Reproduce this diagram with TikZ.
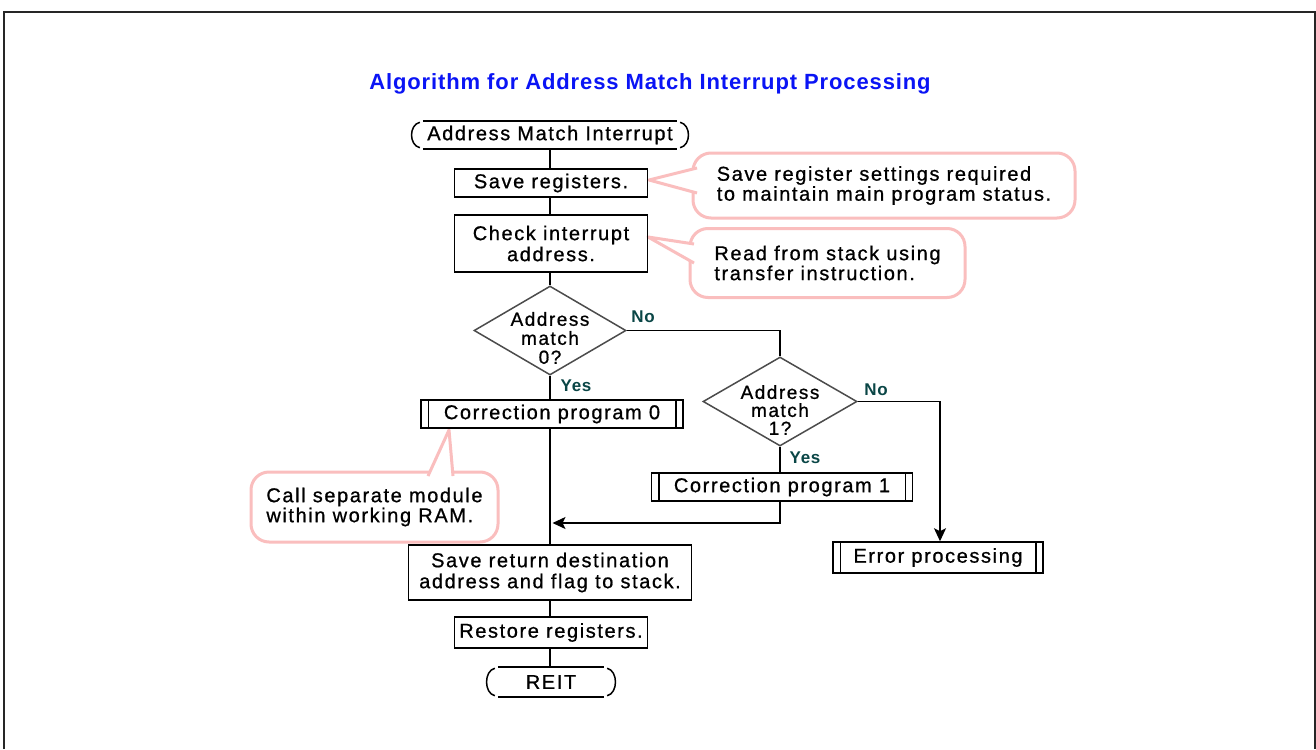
\documentclass[tikz,border=0pt]{standalone}
\usepackage{fontspec}
\setmainfont{Liberation Sans}[LetterSpace=8,FakeBold=0.8]
\newfontfamily\titlefont{Liberation Sans}[LetterSpace=4]
\newfontfamily\lblfont{Liberation Sans}[LetterSpace=4]
\usetikzlibrary{shapes.geometric,arrows.meta,calc}
\definecolor{titleblue}{RGB}{10,20,245}
\definecolor{labelteal}{RGB}{10,70,70}
\definecolor{calloutpink}{RGB}{250,190,190}
\newcommand\termoutline[1]{%
  \draw[flow] ([xshift=13pt]#1.north west) -- ([xshift=-13pt]#1.north east);
  \draw[flow] ([xshift=13pt]#1.south west) -- ([xshift=-13pt]#1.south east);
  \draw[flow] ([xshift=10pt,yshift=-1.5pt]#1.north west) .. controls ([xshift=-1pt,yshift=-4pt]#1.north west) and ([xshift=-1pt,yshift=4pt]#1.south west) .. ([xshift=10pt,yshift=1.5pt]#1.south west);
  \draw[flow] ([xshift=-10pt,yshift=-1.5pt]#1.north east) .. controls ([xshift=1pt,yshift=-4pt]#1.north east) and ([xshift=1pt,yshift=4pt]#1.south east) .. ([xshift=-10pt,yshift=1.5pt]#1.south east);
}
\newcommand\predeflines[1]{%
  \draw[flow] ([xshift=8pt]#1.north west) -- ([xshift=8pt]#1.south west);
  \draw[flow] ([xshift=-8pt]#1.north east) -- ([xshift=-8pt]#1.south east);
}
\begin{document}
\begin{tikzpicture}[x=1pt,y=-1pt,
  base/.style={font=\fontsize{20}{21}\selectfont, inner sep=0pt, align=center},
  proc/.style={base, draw, line width=1.5pt, rectangle},
  dia/.style={draw=black!70, line width=1.5pt, shape=diamond, inner sep=0pt},
  flow/.style={line width=1.5pt},
  arr/.style={flow, -{Stealth[length=13pt,width=12pt,inset=3pt]}},
  lbl/.style={font=\lblfont\bfseries\fontsize{17}{18}\selectfont, text=labelteal, inner sep=0pt},
  callout/.style={draw=calloutpink, line width=3pt, rounded corners=18pt, fill=white, inner sep=0pt, font=\fontsize{20}{20}\selectfont, align=left},
  pinkline/.style={draw=calloutpink, line width=3pt, line join=round},
]
\useasboundingbox (0,0) rectangle (1316,749);
\fill[white] (0,0) rectangle (1316,749);
\draw[line width=2pt, black!85] (4,749) -- (4,12.5) -- (1314.5,12.5) -- (1314.5,749);

% title
\node[inner sep=0pt, text=titleblue, font=\titlefont\bfseries\fontsize{22}{23}\selectfont] (title) at (650,84) {Algorithm for Address Match Interrupt Processing};

% callouts (behind)
\node[callout, minimum width=382pt, minimum height=65pt] (c1) at (884,185.5) {Save register settings required\\to maintain main program status.};
\node[callout, minimum width=275pt, minimum height=69pt] (c2) at (827.5,263) {Read from stack using\\transfer instruction.};
\node[callout, minimum width=247pt, minimum height=70pt] (c3) at (374.5,507) {Call separate module\\within working RAM.};

\coordinate (c1tip) at (649,180);
\coordinate (c1a) at (697,168);
\coordinate (c1b) at (697,193);
\fill[white] (c1a) -- (c1tip) -- (c1b) -- cycle;
\draw[pinkline] (c1a) -- (c1tip) -- (c1b);

\coordinate (c2tip) at (648,237);
\coordinate (c2a) at (694,244);
\coordinate (c2b) at (694,263);
\fill[white] (c2a) -- (c2tip) -- (c2b) -- cycle;
\draw[pinkline] (c2a) -- (c2tip) -- (c2b);

\coordinate (c3tip) at (449,430);
\coordinate (c3a) at (428,476);
\coordinate (c3b) at (453,476);
\fill[white] (c3a) -- (c3tip) -- (c3b) -- cycle;
\draw[pinkline] (c3a) -- (c3tip) -- (c3b);

% flowchart nodes
\node[base, minimum width=280pt, minimum height=28pt] (start) at (550,135) {Address Match Interrupt};
\termoutline{start}
\node[proc, minimum width=193pt, minimum height=28pt] (save) at (551,183) {Save registers.};
\node[proc, minimum width=193pt, minimum height=57pt] (check) at (551,243.5) {Check interrupt\\address.};
\node[dia, minimum width=152pt, minimum height=89pt] (d0) at (550,330.5) {};
\node[base, font=\fontsize{19}{19}\selectfont] (d0t) at (550,338) {Address\\match\\0?};
\node[proc, minimum width=262pt, minimum height=28pt] (corr0) at (552,414) {Correction program 0};
\predeflines{corr0}
\node[dia, minimum width=154pt, minimum height=89pt] (d1) at (780,401.5) {};
\node[base, font=\fontsize{19}{18}\selectfont] (d1t) at (780,410) {Address\\match\\1?};
\node[proc, minimum width=261pt, minimum height=28pt] (corr1) at (782,487) {Correction program 1};
\predeflines{corr1}
\node[proc, minimum width=210pt, minimum height=31pt] (err) at (938,557.5) {Error processing};
\predeflines{err}
\node[proc, minimum width=283pt, minimum height=55pt] (saveret) at (550,572.5) {Save return destination\\address and flag to stack.};
\node[proc, minimum width=193pt, minimum height=31pt] (restore) at (551,632.5) {Restore registers.};
\node[base, minimum width=132pt, minimum height=30pt] (reit) at (551,682) {REIT};
\termoutline{reit}

% labels
\node[lbl] (no0) at (643,317) {No};
\node[lbl] (yes0) at (576,386) {Yes};
\node[lbl] (no1) at (876,390) {No};
\node[lbl] (yes1) at (805,458) {Yes};

% connectors
\draw[flow] (d0.north |- start.south) -- (d0.north |- save.north);
\draw[flow] (d0.north |- save.south) -- (d0.north |- check.north);
\draw[flow] (d0.north |- check.south) -- (d0.north);
\draw[flow] (d0.south) -- (d0.south |- corr0.north);
\draw[flow] (d0.south |- corr0.south) -- (d0.south |- saveret.north);
\draw[flow] (d0.south |- saveret.south) -- (d0.south |- restore.north);
\draw[flow] (d0.south |- restore.south) -- (d0.south |- reit.north);
\draw[flow] (d0.east) -| (d1.north);
\draw[flow] (d1.south) -- (d1.south |- corr1.north);
\coordinate (joinpt) at (552.5,523);
\draw[arr] (d1.south |- corr1.south) |- (joinpt);
\draw[arr] (d1.east) -| ([xshift=2pt]err.north);
\end{tikzpicture}
\end{document}
